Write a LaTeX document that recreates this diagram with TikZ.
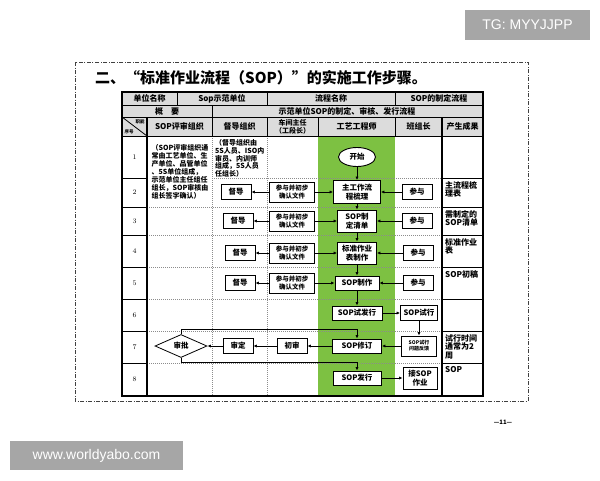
\documentclass[tikz,border=0pt]{standalone}
\usepackage{fontspec}
\newfontfamily\cjk{Noto Sans CJK SC}
\newfontfamily\markfont{Liberation Sans}
\definecolor{lanegreen}{RGB}{125, 193, 66}
\definecolor{headgray}{RGB}{220, 220, 220}
\definecolor{markgray}{RGB}{166, 166, 166}
\usetikzlibrary{shapes.geometric, arrows.meta, positioning, shadows}

\begin{document}
\begin{tikzpicture}[x=1pt, y=-1pt,
  head/.style={font=\cjk\bfseries\fontsize{8}{9}\selectfont, inner sep=0pt, align=center},
  note/.style={font=\cjk\bfseries\fontsize{7}{7.9}\selectfont, inner sep=0pt, align=left},
  result/.style={font=\cjk\bfseries\fontsize{8}{8.6}\selectfont, inner sep=0pt, align=left, anchor=north west},
  task/.style={draw, line width=0.9pt, fill=white, drop shadow={shadow xshift=0.9pt, shadow yshift=-0.9pt, fill=black!35, opacity=1}, minimum width=30pt, minimum height=15pt, inner sep=1pt, align=center, font=\cjk\bfseries\fontsize{7.5}{8.5}\selectfont},
  confirm/.style={task, minimum width=45pt, minimum height=20pt, font=\cjk\bfseries\fontsize{6.5}{7.5}\selectfont},
  work/.style={task, minimum width=47pt, minimum height=14pt, font=\cjk\bfseries\fontsize{7.5}{9}\selectfont},
  term/.style={ellipse, draw, line width=0.9pt, fill=white, minimum width=37pt, minimum height=19pt, inner sep=0pt, font=\cjk\bfseries\fontsize{7.5}{9}\selectfont},
  judge/.style={diamond, draw, line width=0.8pt, fill=white, minimum width=52pt, minimum height=23pt, inner sep=0pt, font=\cjk\bfseries\fontsize{7.5}{9}\selectfont},
  flow/.style={line width=0.8pt, -{Latex[length=3.5pt, width=3.2pt]}},
  rule/.style={line width=0.8pt},
  dots/.style={black!45, line width=0.6pt, dash pattern=on 1pt off 1pt},
  badge/.style={fill=markgray, text=white, inner sep=0pt, font=\markfont\fontsize{14}{16}\selectfont}
]
  \useasboundingbox (0,0) rectangle (600,480);

  % page frame and title
  \draw[black!75, line width=1pt, dash pattern=on 4pt off 1.5pt on 1pt off 1.5pt] (75,62) rectangle (528,401);
  \node[anchor=west, inner sep=0pt, font=\cjk\bfseries\fontsize{15}{17}\selectfont] (title) at (95,78) {二、“标准作业流程（SOP）”的实施工作步骤。};

  % table
  \fill[headgray] (122,92) rectangle (483,136);
  \fill[lanegreen] (318,136) rectangle (395,396);
  \draw[dots] (212,136) -- (212,396) (267,136) -- (267,396) (212,178) -- (442,178);
  \foreach \y in {207,235,267,299,331,363}
    \draw[dots] (147,\y) -- (442,\y);
  \foreach \y in {178,207,235,267,299,331,363}
    \draw[rule] (122,\y) -- (147,\y) (442,\y) -- (483,\y);
  \draw[rule] (122,105) -- (483,105) (122,117) -- (483,117) (122,136) -- (483,136);
  \draw[rule] (177,92) -- (177,105) (267,92) -- (267,105) (395,92) -- (395,105) (212,105) -- (212,136);
  \draw[rule] (267,117) -- (267,136) (318,117) -- (318,136) (395,117) -- (395,136);
  \draw[line width=1.1pt] (147,117) -- (147,396) (442,117) -- (442,396);
  \draw[rule] (122,117) -- (147,136);
  \draw[line width=1.4pt] (122,92) rectangle (483,396);

  \node[head] (unit) at (149.5,98.5) {单位名称};
  \node[head] (unitname) at (222,98.5) {Sop示范单位};
  \node[head] (proc) at (331,98.5) {流程名称};
  \node[head] (procname) at (439,98.5) {SOP的制定流程};
  \node[head] (brief) at (167,111) {概\quad 要};
  \node[head] (brieftext) at (347,111) {示范单位SOP的制定、审核、发行流程};
  \node[head, font=\cjk\bfseries\fontsize{4.5}{5}\selectfont] (duty) at (140,121.5) {职能};
  \node[head, font=\cjk\bfseries\fontsize{4.5}{5}\selectfont] (seq) at (129,132) {序号};
  \node[head] (review) at (179.5,126.5) {SOP评审组织};
  \node[head] (super) at (239.5,126.5) {督导组织};
  \node[head, font=\cjk\bfseries\fontsize{7}{8}\selectfont] (chief) at (292.5,126.5) {车间主任\\（工段长）};
  \node[head] (eng) at (356.5,126.5) {工艺工程师};
  \node[head] (lead) at (418.5,126.5) {班组长};
  \node[head] (out) at (462.5,126.5) {产生成果};

  \foreach \n/\y in {1/157,2/192.5,3/221,4/251,5/283,6/315,7/347,8/379.5}
    \node[font=\fontsize{7}{8}\selectfont] (n\n) at (134.5,\y) {\n};

  \node[note] (reviewnote) at (180,172) {（SOP评审组织通\\常由工艺单位、生\\产单位、品管单位\\、5S单位组成，\\示范单位主任组任\\组长，SOP审核由\\组长签字确认）};
  \node[note, anchor=north west] (supernote) at (215,139) {（督导组织由\\5S人员、ISO内\\审员、内训师\\组成，5S人员\\任组长）};

  % engineer lane
  \node[term] (start) at (357,157) {开始};
  \node[work, minimum width=47pt, minimum height=23pt] (sort) at (357,192) {主工作流\\程梳理};
  \node[work, minimum width=39pt, minimum height=22pt] (list) at (357,221) {SOP制\\定清单};
  \node[work, minimum width=39pt, minimum height=22pt] (form) at (357,253) {标准作业\\表制作};
  \node[work, minimum width=44pt] (make) at (357,283) {SOP制作};
  \node[work, minimum width=50pt] (trial) at (357,313) {SOP试发行};
  \node[work, minimum width=49pt] (revise) at (357,346) {SOP修订};
  \node[work, minimum width=48pt] (release) at (357,378) {SOP发行};

  % steps 2-5
  \node[task] (sup2) at (236,192) {督导};
  \node[confirm] (conf2) at (292,192) {参与并初步\\确认文件};
  \node[task] (crew2) at (417,192) {参与};
  \node[task] (sup3) at (238,221) {督导};
  \node[confirm] (conf3) at (292,221) {参与并初步\\确认文件};
  \node[task] (crew3) at (417,221) {参与};
  \node[task] (sup4) at (240,253) {督导};
  \node[confirm] (conf4) at (292,253) {参与并初步\\确认文件};
  \node[task] (crew4) at (418,253) {参与};
  \node[task] (sup5) at (240,283) {督导};
  \node[confirm] (conf5) at (292,283) {参与并初步\\确认文件};
  \node[task] (crew5) at (418,283) {参与};

  % steps 6-8
  \node[task, minimum width=37pt] (test) at (419,313) {SOP试行};
  \node[task, minimum width=35pt, minimum height=20pt, font=\cjk\bfseries\fontsize{5}{6}\selectfont] (issue) at (419,346) {SOP试行\\问题反馈};
  \node[task] (prelim) at (292,346) {初审};
  \node[task] (final) at (238,346) {审定};
  \node[judge] (approve) at (181,346) {审批};
  \node[task, minimum width=34pt, minimum height=22pt] (adopt) at (420,378) {接SOP\\作业};

  \node[result] (res2) at (445,181) {主流程梳\\理表};
  \node[result] (res3) at (445,210) {需制定的\\SOP清单};
  \node[result] (res4) at (445,238) {标准作业\\表};
  \node[result] (res5) at (445,270) {SOP初稿};
  \node[result] (res7) at (445,334) {试行时间\\通常为2\\周};
  \node[result] (res8) at (445,366) {SOP};

  \draw[flow] (start) -- (sort);
  \draw[flow] (sort) -- (list);
  \draw[flow] (list) -- (form);
  \draw[flow] (form) -- (make);
  \draw[flow] (make) -- (trial);
  \draw[flow] (conf2) -- (sup2);
  \draw[flow] (conf2) -- (sort);
  \draw[flow] (crew2) -- (sort);
  \draw[flow] (conf3) -- (sup3);
  \draw[flow] (conf3) -- (list);
  \draw[flow] (crew3) -- (list);
  \draw[flow] (conf4) -- (sup4);
  \draw[flow] (conf4) -- (form);
  \draw[flow] (crew4) -- (form);
  \draw[flow] (conf5) -- (sup5);
  \draw[flow] (conf5) -- (make);
  \draw[flow] (crew5) -- (make);
  \draw[flow] (trial) -- (test);
  \draw[flow] (test) -- (issue);
  \draw[flow] (issue) -- (revise);
  \draw[flow] (revise) -- (prelim);
  \draw[flow] (prelim) -- (final);
  \draw[flow] (final) -- (approve);
  \draw[flow] (approve.north) -- ++(0,-4.5) -| (revise.north);
  \draw[flow] (approve.south) -- ++(0,4) -| (release.north);
  \draw[flow] (release) -- (adopt);

  \node[font=\cjk\bfseries\fontsize{6}{7}\selectfont] (page) at (503,422) {—11—};

  % watermarks
  \node[badge, minimum width=125pt, minimum height=30pt] (tg) at (527.5,25) {TG: MYYJJPP};
  \node[badge, minimum width=173pt, minimum height=29pt] (site) at (96.5,455.5) {www.worldyabo.com};
\end{tikzpicture}
\end{document}
